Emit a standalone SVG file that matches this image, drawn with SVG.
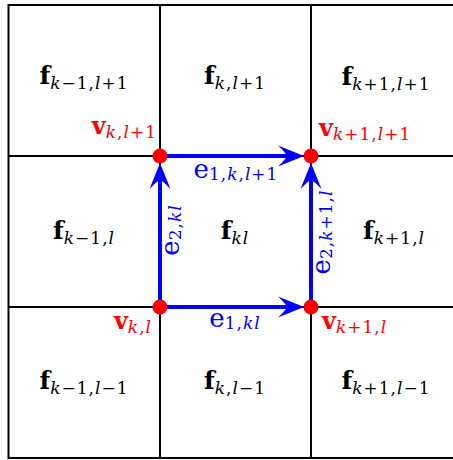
<svg xmlns="http://www.w3.org/2000/svg" width="453" height="460" viewBox="0 0 453 460">
<style>
text{font-family:"DejaVu Serif","Liberation Serif",serif;}
.grid{stroke:#000;stroke-width:2;fill:none;}
.f{font-size:25px;font-weight:bold;fill:#000;}
.v{font-size:24px;font-weight:bold;fill:#ff0000;}
.e{font-size:26px;fill:#0000ff;}
.s{font-size:17px;font-weight:normal;letter-spacing:1px;}
.i{font-style:italic;}
.edge{stroke:#0000ff;stroke-width:4;fill:none;}
.dot{fill:#ff0000;}
</style>
<defs>
<marker id="head" markerUnits="userSpaceOnUse" markerWidth="40" markerHeight="40" refX="0" refY="0" viewBox="-20 -20 40 40" orient="auto" overflow="visible">
<path d="M15,0 L-11,-10.5 Q-3,-3 -2,0 Q-3,3 -11,10.5 Z" fill="#0000ff"/>
</marker>
</defs>
<rect width="453" height="460" fill="#fff"/>
<g id="grid">
<rect class="grid" x="8.5" y="5" width="454" height="453"/>
<line class="grid" x1="160" y1="5" x2="160" y2="458"/>
<line class="grid" x1="311" y1="5" x2="311" y2="458"/>
<line class="grid" x1="8.5" y1="156" x2="462.5" y2="156"/>
<line class="grid" x1="8.5" y1="307" x2="462.5" y2="307"/>
</g>
<g id="face-km1-lp1"><text class="f" x="84" y="84" text-anchor="middle">f<tspan class="s" dy="5"><tspan class="i">k</tspan>−1,<tspan class="i">l</tspan>+1</tspan></text></g>
<g id="face-k-lp1"><text class="f" x="235" y="84" text-anchor="middle">f<tspan class="s" dy="5"><tspan class="i">k</tspan>,<tspan class="i">l</tspan>+1</tspan></text></g>
<g id="face-kp1-lp1"><text class="f" x="386" y="85" text-anchor="middle">f<tspan class="s" dy="5"><tspan class="i">k</tspan>+1,<tspan class="i">l</tspan>+1</tspan></text></g>
<g id="face-km1-l"><text class="f" x="84" y="239" text-anchor="middle">f<tspan class="s" dy="5"><tspan class="i">k</tspan>−1,<tspan class="i">l</tspan></tspan></text></g>
<g id="face-kl"><text class="f" x="235" y="239" text-anchor="middle">f<tspan class="s i" dy="5">kl</tspan></text></g>
<g id="face-kp1-l"><text class="f" x="394" y="239" text-anchor="middle">f<tspan class="s" dy="5"><tspan class="i">k</tspan>+1,<tspan class="i">l</tspan></tspan></text></g>
<g id="face-km1-lm1"><text class="f" x="84" y="389" text-anchor="middle">f<tspan class="s" dy="5"><tspan class="i">k</tspan>−1,<tspan class="i">l</tspan>−1</tspan></text></g>
<g id="face-k-lm1"><text class="f" x="235" y="389" text-anchor="middle">f<tspan class="s" dy="5"><tspan class="i">k</tspan>,<tspan class="i">l</tspan>−1</tspan></text></g>
<g id="face-kp1-lm1"><text class="f" x="386" y="389" text-anchor="middle">f<tspan class="s" dy="5"><tspan class="i">k</tspan>+1,<tspan class="i">l</tspan>−1</tspan></text></g>
<g id="connectors">
<line class="edge" x1="160" y1="307" x2="289" y2="307" marker-end="url(#head)"/>
<line class="edge" x1="160" y1="156" x2="289" y2="156" marker-end="url(#head)"/>
<line class="edge" x1="160" y1="307" x2="160" y2="178" marker-end="url(#head)"/>
<line class="edge" x1="311" y1="307" x2="311" y2="178" marker-end="url(#head)"/>
<text class="e" x="235" y="327" text-anchor="middle">e<tspan class="s" dy="2">1,<tspan class="i">kl</tspan></tspan></text>
<text class="e" x="236" y="178" text-anchor="middle">e<tspan class="s" dy="2">1,<tspan class="i">k</tspan>,<tspan class="i">l</tspan>+1</tspan></text>
<text class="e" transform="translate(179,230) rotate(-90)" text-anchor="middle">e<tspan class="s" dy="2">2,<tspan class="i">kl</tspan></tspan></text>
<text class="e" transform="translate(330,232) rotate(-90)" text-anchor="middle">e<tspan class="s" dy="2">2,<tspan class="i">k</tspan>+1,<tspan class="i">l</tspan></tspan></text>
</g>
<g id="v-k-lp1"><circle class="dot" cx="160" cy="156" r="7.5"/><text class="v" x="157" y="134" text-anchor="end">v<tspan class="s i" dy="4">k</tspan><tspan class="s">,</tspan><tspan class="s i">l</tspan><tspan class="s">+1</tspan></text></g>
<g id="v-kp1-lp1"><circle class="dot" cx="311" cy="156" r="7.5"/><text class="v" x="319" y="136" text-anchor="start">v<tspan class="s i" dy="4">k</tspan><tspan class="s">+1,</tspan><tspan class="s i">l</tspan><tspan class="s">+1</tspan></text></g>
<g id="v-k-l"><circle class="dot" cx="160" cy="307" r="7.5"/><text class="v" x="152" y="329" text-anchor="end">v<tspan class="s i" dy="4">k</tspan><tspan class="s">,</tspan><tspan class="s i">l</tspan></text></g>
<g id="v-kp1-l"><circle class="dot" cx="311" cy="307" r="7.5"/><text class="v" x="322" y="329" text-anchor="start">v<tspan class="s i" dy="4">k</tspan><tspan class="s">+1,</tspan><tspan class="s i">l</tspan></text></g>
</svg>
